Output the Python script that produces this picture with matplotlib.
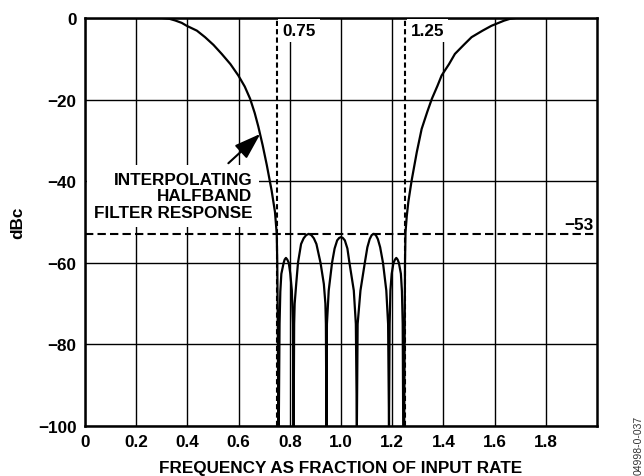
import numpy as np
import matplotlib
matplotlib.use("Agg")
import matplotlib.pyplot as plt

plt.rcParams['font.family'] = ['Liberation Sans', 'DejaVu Sans']
plt.rcParams['font.weight'] = 'bold'
plt.rcParams['font.size'] = 12.3

# passband and falling edge
edge_lo_f = [0.0, 0.30, 0.33, 0.352, 0.378, 0.397, 0.437, 0.469, 0.502, 0.534, 0.568,
             0.599, 0.624, 0.645, 0.663, 0.677, 0.694, 0.710, 0.729, 0.742, 0.749,
             0.751, 0.753, 0.755]
edge_lo_db = [0, 0, -0.2, -0.6, -1.2, -1.9, -3.1, -4.7, -6.6, -8.8, -11.3,
              -14.1, -16.8, -19.8, -23.3, -26.6, -31.2, -36.0, -42.3, -47.5, -52.9,
              -60, -75, -100]

# stopband lobes
stop_f = [0.757, 0.760, 0.763, 0.767, 0.776, 0.780, 0.785, 0.790, 0.796, 0.802,
          0.808, 0.812,
          0.815, 0.817, 0.819, 0.825, 0.832, 0.844, 0.854, 0.864, 0.874, 0.884,
          0.894, 0.904, 0.920, 0.933, 0.939, 0.941, 0.943,
          0.945, 0.952, 0.965, 0.975, 0.985, 0.993, 1.000, 1.007, 1.015, 1.025,
          1.033, 1.050, 1.058, 1.062,
          1.065, 1.076, 1.093, 1.103, 1.112, 1.120, 1.128, 1.136, 1.144, 1.153,
          1.164, 1.177, 1.184, 1.1875,
          1.190, 1.193, 1.198, 1.205, 1.211, 1.216, 1.221, 1.226, 1.234, 1.238,
          1.241, 1.243]
stop_db = [-100, -75, -67, -62.7, -60, -59.2, -58.8, -59.2, -60, -62.7,
           -66.8, -75,
           -100, -75, -70, -65.2, -60, -55.4, -54.0, -53.2, -52.9, -53.2,
           -54.0, -55.4, -60, -65.2, -70, -75, -100,
           -75, -66.8, -60, -56.5, -54.5, -53.9, -53.7, -53.9, -54.5, -56.5,
           -60, -66.8, -75, -100,
           -75, -66.8, -60, -56.2, -54.2, -53.2, -52.9, -53.2, -54.2, -56.2,
           -60, -66.8, -75, -100,
           -75, -66.8, -62.7, -60, -59.2, -58.8, -59.2, -60, -62.7, -67,
           -75, -100]

# rising edge and upper passband
edge_hi_f = [1.247, 1.249, 1.250, 1.252, 1.257, 1.263, 1.276, 1.296, 1.315, 1.337,
             1.355, 1.377, 1.393, 1.422, 1.445, 1.481, 1.51, 1.553, 1.588, 1.637,
             1.66, 1.685, 2.0]
edge_hi_db = [-100, -75, -60, -52.5, -48.5, -45.1, -39.8, -32.9, -27.2, -23.0,
              -19.8, -16.6, -14.1, -11.3, -8.8, -6.5, -4.7, -3.1, -1.9, -0.65,
              -0.2, 0, 0]

freq = edge_lo_f + stop_f + edge_hi_f
dbc = edge_lo_db + stop_db + edge_hi_db

xticks = [0, 0.2, 0.4, 0.6, 0.8, 1.0, 1.2, 1.4, 1.6, 1.8]
xlabels = ['0', '0.2', '0.4', '0.6', '0.8', '1.0', '1.2', '1.4', '1.6', '1.8']
yticks = [0, -20, -40, -60, -80, -100]

fig = plt.figure(figsize=(6.44, 4.77), dpi=100)
ax = fig.add_axes([85/644, 1-427/477, 512/644, 408/477])

ax.plot(freq, dbc, color='k', lw=1.6, zorder=4, solid_joinstyle='round')

ax.set_xlim(0, 2)
ax.set_ylim(-100, 0)
ax.set_xticks(xticks)
ax.set_xticklabels(xlabels)
ax.set_yticks(yticks)
ax.tick_params(length=0, pad=6)
ax.grid(True, color='k', lw=1.0)
for s in ax.spines.values():
	s.set_linewidth(1.8)

ax.axvline(0.75, color='k', lw=1.5, ls=(0, (2.5, 1.5)), zorder=3)
ax.axvline(1.25, color='k', lw=1.5, ls=(0, (2.5, 1.5)), zorder=3)
ax.axhline(-53, color='k', lw=1.5, ls=(0, (4, 2)), zorder=3)

box = dict(fc='white', ec='none', pad=3)
ax.text(0.771, -3.0, '0.75', ha='left', va='center', bbox=box, zorder=3.5)
ax.text(1.272, -3.0, '1.25', ha='left', va='center', bbox=box, zorder=3.5)
ax.text(1.988, -50.6, '\u221253', ha='right', va='center')

ax.text(0.654, -43.6, 'INTERPOLATING\nHALFBAND\nFILTER RESPONSE', ha='right', va='center',
	multialignment='right', linespacing=1.12, bbox=dict(fc='white', ec='none', pad=5), zorder=3.5)
ax.annotate('', xy=(0.685, -28.4), xytext=(0.560, -35.6),
	arrowprops=dict(arrowstyle='-|>,head_length=0.9,head_width=0.3', color='k', lw=1.5,
		mutation_scale=18, shrinkA=0, shrinkB=0), zorder=5)

fig.text(18/644, 1-223/477, 'dBc', rotation=90, ha='center', va='center')
fig.text(341/644, 1-469/477, 'FREQUENCY AS FRACTION OF INPUT RATE', ha='center', va='center')
fig.text(639/644, 1-445/477, '04998-0-037', rotation=90, ha='center', va='center',
	fontsize=7.5, fontweight='normal', color='#333333')

fig.savefig('out.png', dpi=100)
